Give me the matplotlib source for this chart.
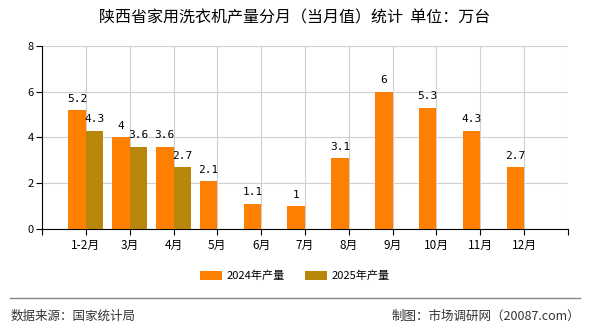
import matplotlib

matplotlib.use("Agg")
import matplotlib.pyplot as plt
import numpy as np

plt.rcParams["font.family"] = ["Noto Sans CJK SC", "DejaVu Sans"]

months = ["1-2月", "3月", "4月", "5月", "6月", "7月", "8月", "9月", "10月", "11月", "12月"]
prod_2024 = [5.2, 4, 3.6, 2.1, 1.1, 1, 3.1, 6, 5.3, 4.3, 2.7]
prod_2025 = [4.3, 3.6, 2.7]

C24 = "#FF8000"
C25 = "#B8860B"

fig = plt.figure(figsize=(5.9, 3.3), dpi=100)
ax = fig.add_axes([0.0712, 0.306, 0.8915, 0.555])

x = np.arange(1, len(months) + 1)
w = 0.4
ax.bar(x - w / 2, prod_2024, width=w, color=C24, label="2024年产量", zorder=3)
x25 = x[:len(prod_2025)]
ax.bar(x25 + w / 2, prod_2025, width=w, color=C25, label="2025年产量", zorder=3)

for xi, v in zip(x, prod_2024):
    ax.text(xi - w / 2, v + 0.28, f"{v:g}", ha="center", va="bottom", fontsize=8, family="DejaVu Sans Mono")
for xi, v in zip(x25, prod_2025):
    ax.text(xi + w / 2, v + 0.28, f"{v:g}", ha="center", va="bottom", fontsize=8, family="DejaVu Sans Mono")

ax.set_xlim(0, 12)
ax.set_ylim(0, 8)
ax.set_xticks(np.arange(0, 13))
ax.set_xticklabels([""] + months + [""], fontsize=8.5)
ax.set_yticks([0, 2, 4, 6, 8])
ax.tick_params(axis="y", labelsize=8, length=4, pad=2)
ax.tick_params(axis="x", length=4, pad=3)
ax.grid(True, color="#d0d0d0", linewidth=0.8, zorder=0)
for s in ("top", "right"):
    ax.spines[s].set_visible(False)

fig.text(0.5, 0.945, "陕西省家用洗衣机产量分月（当月值）统计  单位：万台", ha="center", va="center", fontsize=11.5)

fig.legend(*ax.get_legend_handles_labels(), loc="center", bbox_to_anchor=(0.5, 1 - 276 / 330),
           ncol=2, frameon=False, fontsize=8, handlelength=2, handleheight=0.8,
           handletextpad=0.4, columnspacing=1.8)

yline = 1 - 298 / 330
fig.add_artist(plt.Line2D([0.017, 0.983], [yline, yline], transform=fig.transFigure,
                          color="#888888", linewidth=1))
fig.text(0.017, 1 - 316 / 330, "数据来源：国家统计局", ha="left", va="center", fontsize=9, color="#333333")
fig.text(0.983, 1 - 316 / 330, "制图：市场调研网（20087.com）", ha="right", va="center", fontsize=9, color="#333333")

fig.savefig("out.png", dpi=100)
